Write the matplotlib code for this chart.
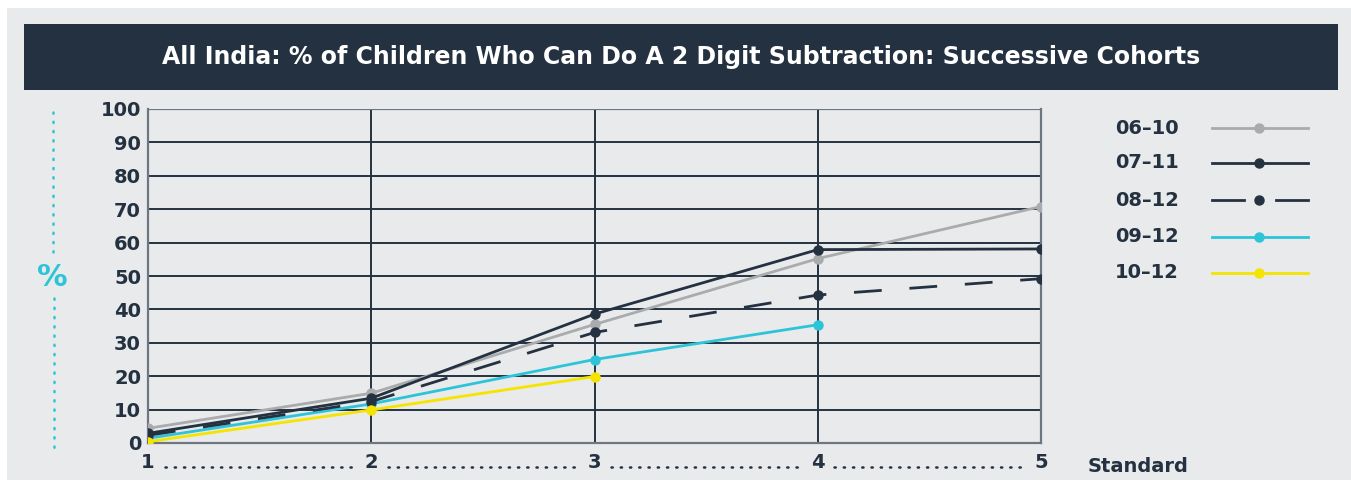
import matplotlib
matplotlib.use("Agg")
import matplotlib.pyplot as plt
from matplotlib.lines import Line2D
from matplotlib.patches import Rectangle
import matplotlib.transforms as mtransforms

plt.rcParams['font.family'] = ['DejaVu Sans']

# ---- data ----
standards = [1, 2, 3, 4, 5]
x_labels = ["1", "2", "3", "4", "5"]
y_ticks = [0, 10, 20, 30, 40, 50, 60, 70, 80, 90, 100]
series_names = ["06-10", "07-11", "08-12", "09-12", "10-12"]
s_06_10 = [4.4, 14.9, 35.5, 55.2, 70.8]
s_07_11 = [2.9, 13.4, 38.6, 57.9, 58.1]
s_08_12 = [2.3, 12.4, 33.1, 44.3, 49.2]
s_09_12 = [1.4, 11.7, 25.0, 35.4]
s_10_12 = [0.4, 9.9, 19.9]
title = "All India: % of Children Who Can Do A 2 Digit Subtraction: Successive Cohorts"

NAVY = "#243140"
GRAY = "#a9abad"
CYAN = "#2ec4d8"
YELLOW = "#f5e400"
BG = "#e9eaec"
SPINE = "#6d7782"

W, H = 1351, 480
fig = plt.figure(figsize=(W / 100, H / 100), dpi=100)
fig.patch.set_facecolor("white")
# light background panel
fig.add_artist(Rectangle((7 / W, 0), 1 - 7 / W, 1 - 8 / H, transform=fig.transFigure,
                         facecolor=BG, edgecolor="none", zorder=0))
# title bar
fig.add_artist(Rectangle((24 / W, 1 - 90 / H), (1338 - 24) / W, (90 - 24) / H,
                         transform=fig.transFigure, facecolor=NAVY, edgecolor="none", zorder=1))
fig.text(681 / W, 1 - 57 / H, title, color="white", fontsize=17, fontweight="bold",
         ha="center", va="center", zorder=2)

left, right, top, bottom = 148, 1041, 109, 443
ax = fig.add_axes([left / W, 1 - bottom / H, (right - left) / W, (bottom - top) / H])
ax.set_facecolor("none")
ax.set_xlim(1, 5)
ax.set_ylim(0, 100)

# grid
for yv in y_ticks[1:-1]:
    ax.axhline(yv, color=NAVY, lw=1.4, zorder=1)
for xv in standards[1:-1]:
    ax.axvline(xv, color=NAVY, lw=1.4, zorder=1)
ax.axhline(100, color=SPINE, lw=1.6, zorder=1)
for side in ["left", "bottom", "right"]:
    ax.spines[side].set_color(SPINE)
    ax.spines[side].set_linewidth(1.6)
ax.spines["top"].set_visible(False)

ms = 6.5
ax.plot(standards, s_06_10, color=GRAY, lw=2, marker="o", ms=ms, zorder=3)
ax.plot(standards, s_07_11, color=NAVY, lw=2, marker="o", ms=ms, zorder=4)
ax.plot(standards, s_08_12, color=NAVY, lw=2, marker="o", ms=ms, zorder=4,
        linestyle=(0, (10, 10)))
ax.plot(standards[:len(s_09_12)], s_09_12, color=CYAN, lw=2, marker="o", ms=ms, zorder=3)
ax.plot(standards[:len(s_10_12)], s_10_12, color=YELLOW, lw=2, marker="o", ms=ms, zorder=5)

ax.set_yticks(y_ticks)
ax.set_yticklabels([str(v) for v in y_ticks])
ax.set_xticks(standards)
ax.set_xticklabels(x_labels)
ax.tick_params(axis="y", length=0, pad=5, labelsize=14, labelcolor=NAVY)
ax.tick_params(axis="x", length=0, pad=7, labelsize=14, labelcolor=NAVY)
for lab in ax.get_xticklabels() + ax.get_yticklabels():
    lab.set_fontweight("bold")

# dotted connectors between x labels
trans = mtransforms.blended_transform_factory(ax.transData, ax.transAxes)
ylab = -(467 - bottom) / (bottom - top)
for a, b in zip(standards[:-1], standards[1:]):
    ax.plot([a + 0.075, b - 0.075], [ylab, ylab], transform=trans, clip_on=False,
            color=NAVY, lw=1.8, linestyle=(0, (0.5, 3.2)), dash_capstyle="round")

fig.text(1138 / W, 1 - 467 / H, "Standard", color=NAVY, fontsize=14, fontweight="bold",
         ha="center", va="center")

# y-axis label with cyan dotted lines
fig.text(52 / W, 1 - 277 / H, "%", color=CYAN, fontsize=22, fontweight="bold",
         ha="center", va="center")
fig.add_artist(Line2D([53 / W, 53 / W], [1 - 112 / H, 1 - 252 / H], transform=fig.transFigure,
                      color=CYAN, lw=1.8, linestyle=(0, (0.5, 3.2)), dash_capstyle="round"))
fig.add_artist(Line2D([54 / W, 54 / W], [1 - 298 / H, 1 - 450 / H], transform=fig.transFigure,
                      color=CYAN, lw=1.8, linestyle=(0, (0.5, 3.2)), dash_capstyle="round"))

# legend (manual)
leg_y = [128, 163, 200, 237, 273]
leg_colors = [GRAY, NAVY, NAVY, CYAN, YELLOW]
for name, yy, c in zip(series_names, leg_y, leg_colors):
    yf = 1 - yy / H
    fig.text(1115 / W, yf, name.replace("-", "–"), color=NAVY, fontsize=14,
             fontweight="bold", ha="left", va="center")
    if name == "08-12":
        fig.add_artist(Line2D([1212 / W, 1244 / W], [yf, yf], transform=fig.transFigure,
                              color=c, lw=2))
        fig.add_artist(Line2D([1276 / W, 1308 / W], [yf, yf], transform=fig.transFigure,
                              color=c, lw=2))
    else:
        fig.add_artist(Line2D([1212 / W, 1308 / W], [yf, yf], transform=fig.transFigure,
                              color=c, lw=2))
    fig.add_artist(Line2D([1259 / W], [yf], transform=fig.transFigure, color=c,
                          marker="o", ms=ms, lw=0))

fig.savefig("out.png", dpi=100, facecolor=fig.get_facecolor())
